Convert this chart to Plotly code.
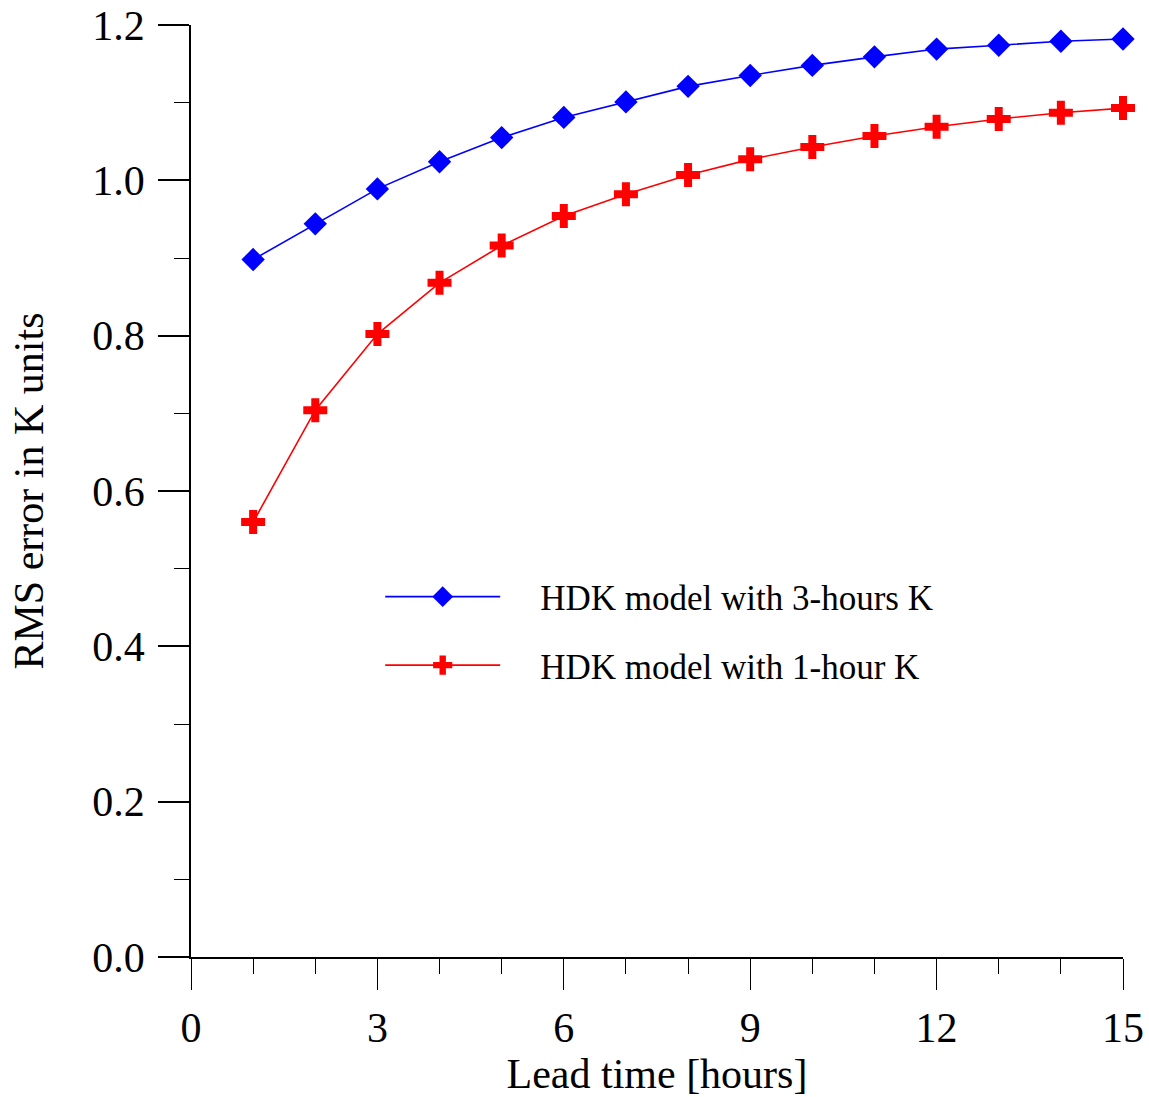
import plotly.graph_objects as go

lead_time = list(range(1, 16))
rms_3h = [0.898, 0.944, 0.989, 1.024, 1.055, 1.081, 1.101, 1.121, 1.135,
          1.148, 1.159, 1.169, 1.174, 1.179, 1.182]
rms_1h = [0.560, 0.704, 0.802, 0.868, 0.916, 0.954, 0.982, 1.007, 1.027,
          1.043, 1.057, 1.069, 1.079, 1.087, 1.093]
names = ["HDK model with 3-hours K", "HDK model with 1-hour K"]

FONT = "Liberation Serif, Times New Roman, serif"
PAD = "\u00a0" * 4

fig = go.Figure()
fig.add_trace(go.Scatter(x=lead_time, y=rms_3h, mode="lines+markers", name=PAD + names[0],
                         legendgroup="a", cliponaxis=False,
                         line=dict(color="#0000FF", width=1.6),
                         marker=dict(symbol="diamond", size=18, color="#0000FF", line=dict(width=0))))
fig.add_trace(go.Scatter(x=lead_time, y=rms_1h, mode="lines+markers", name=PAD + names[1],
                         legendgroup="b", cliponaxis=False,
                         line=dict(color="#FF0000", width=1.6),
                         marker=dict(symbol="cross", size=20, color="#FF0000", line=dict(width=0))))

fig.update_layout(
    width=1149, height=1097,
    margin=dict(l=191, r=26, t=25, b=140),
    paper_bgcolor="white", plot_bgcolor="white",
    font=dict(family=FONT, size=42, color="black"),
    showlegend=True,
    legend=dict(x=0.203, y=0.418, xanchor="left", yanchor="top",
                font=dict(family=FONT, size=35, color="black"),
                bgcolor="rgba(0,0,0,0)", itemwidth=115,
                traceorder="grouped", tracegroupgap=20),
    xaxis=dict(range=[0, 15], tickvals=[0, 3, 6, 9, 12, 15], ticks="outside", ticklen=31,
               tickwidth=1.2, tickcolor="black", showline=True, linecolor="black", linewidth=1.6,
               showgrid=False, zeroline=False, ticklabelstandoff=2, automargin=False,
               minor=dict(dtick=1, ticks="outside", ticklen=15, tickwidth=1.2, tickcolor="black"),
               title=dict(text="Lead time [hours]", standoff=4, font=dict(size=42))),
    yaxis=dict(range=[0, 1.2], tickvals=[0, 0.2, 0.4, 0.6, 0.8, 1.0, 1.2],
               ticktext=["0.0", "0.2", "0.4", "0.6", "0.8", "1.0", "1.2"],
               ticks="outside", ticklen=31, tickwidth=1.6, tickcolor="black",
               showline=True, linecolor="black", linewidth=1.6,
               showgrid=False, zeroline=False, ticklabelstandoff=5, automargin=False,
               minor=dict(dtick=0.1, ticks="outside", ticklen=15, tickwidth=1.2, tickcolor="black"),
               title=dict(text="RMS error in K units", standoff=36, font=dict(size=42))),
)

fig.write_html("out.html")
